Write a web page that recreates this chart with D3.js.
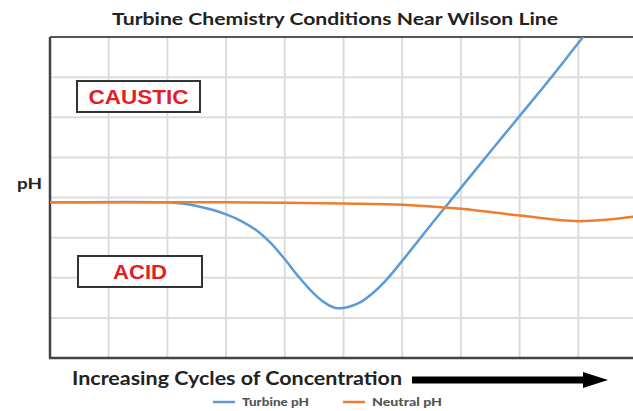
<!DOCTYPE html>
<html lang="en">
<head>
  <meta charset="utf-8">
  <title>Turbine Chemistry Conditions Near Wilson Line</title>
  <script src="https://d3js.org/d3.v7.min.js"></script>
  <style>
    body { margin: 0; background: #fff; }
    svg text { font-family: Lato, "Open Sans", sans-serif; font-weight: bold; }
  </style>
</head>
<body>
  <div id="chart"></div>
  <script>
    // data (x = cycles grid units, y = pH grid units)
    var turbineX  = [0, 2, 2.25, 2.5, 2.75, 3, 3.25, 3.5, 3.75, 4, 4.25, 4.5, 4.7, 4.9,
                     5.25, 5.5, 5.75, 6, 6.25, 6.5, 6.75, 7, 7.5, 8, 8.5, 9, 9.3];
    var turbinePH = [3.88, 3.88, 3.85, 3.79, 3.70, 3.58, 3.42, 3.20, 2.88, 2.46, 2.00, 1.60, 1.36, 1.24,
                     1.36, 1.62, 1.98, 2.42, 2.88, 3.34, 3.79, 4.24, 5.14, 6.03, 6.92, 7.85, 8.4];
    var neutralX  = [0, 1, 2, 3, 4, 5, 6, 7, 8, 9, 10];
    var neutralPH = [3.88, 3.88, 3.88, 3.88, 3.87, 3.85, 3.82, 3.72, 3.55, 3.41, 3.53];
    var seriesNames = ["Turbine pH", "Neutral pH"];
    var xTicks = d3.range(0, 11);
    var yTicks = d3.range(0, 9);

    function draw() {
      var W = 633, H = 411;
      var margin = {left: 50, right: 637, top: 37, bottom: 358};

      var svg = d3.select("#chart").append("svg")
          .attr("width", W).attr("height", H);

      var x = d3.scaleLinear().domain([0, 10]).range([margin.left, margin.right]);
      var y = d3.scaleLinear().domain([0, 8]).range([margin.bottom, margin.top]);

      // grade
      var grid = svg.append("g");
      grid.selectAll("line.v").data(xTicks.slice(1)).enter().append("line")
          .attr("x1", d => x(d)).attr("x2", d => x(d))
          .attr("y1", margin.top).attr("y2", margin.bottom)
          .attr("stroke", "#dcdcdc").attr("stroke-width", 2);
      grid.selectAll("line.h").data(yTicks.slice(1, -1)).enter().append("line")
          .attr("x1", margin.left).attr("x2", margin.right)
          .attr("y1", d => y(d)).attr("y2", d => y(d))
          .attr("stroke", "#dcdcdc").attr("stroke-width", 2);

      // borda do grafico
      svg.append("line").attr("x1", margin.left).attr("x2", W)
          .attr("y1", margin.top).attr("y2", margin.top)
          .attr("stroke", "#555").attr("stroke-width", 2);
      svg.append("line").attr("x1", margin.left).attr("x2", margin.left)
          .attr("y1", margin.top).attr("y2", margin.bottom)
          .attr("stroke", "#444").attr("stroke-width", 2.5);
      svg.append("line").attr("x1", margin.left - 1).attr("x2", W)
          .attr("y1", margin.bottom).attr("y2", margin.bottom)
          .attr("stroke", "#444").attr("stroke-width", 2.5);

      svg.append("clipPath").attr("id", "plot")
        .append("rect").attr("x", margin.left).attr("y", margin.top)
          .attr("width", margin.right - margin.left).attr("height", margin.bottom - margin.top);

      var line = d3.line().curve(d3.curveCatmullRom.alpha(0.5))
          .x(d => x(d[0])).y(d => y(d[1]));

      var lines = svg.append("g").attr("clip-path", "url(#plot)");
      lines.append("path")
          .attr("d", line(d3.zip(turbineX, turbinePH)))
          .attr("fill", "none").attr("stroke", "#5b9bd5").attr("stroke-width", 2.5);
      lines.append("path")
          .attr("d", line(d3.zip(neutralX, neutralPH)))
          .attr("fill", "none").attr("stroke", "#ed7d31").attr("stroke-width", 2.5);

      // caixas CAUSTIC / ACID
      function caixa(x0, y0, w, h, txt, tl) {
        svg.append("rect").attr("x", x0).attr("y", y0).attr("width", w).attr("height", h)
            .attr("fill", "#fff").attr("stroke", "#333").attr("stroke-width", 2);
        svg.append("text").attr("x", x0 + w / 2).attr("y", y0 + h / 2 + 7)
            .attr("text-anchor", "middle")
            .attr("textLength", tl).attr("lengthAdjust", "spacingAndGlyphs")
            .style("font-family", "'Liberation Sans', Arial, sans-serif")
            .style("font-size", "20px").attr("fill", "#e31e24").text(txt);
      }
      caixa(77, 81, 123, 31, "CAUSTIC", 100);
      caixa(78, 256, 124, 31, "ACID", 54);

      // textos
      svg.append("text").attr("x", 112).attr("y", 25)
          .attr("textLength", 446).attr("lengthAdjust", "spacingAndGlyphs")
          .style("font-size", "17px").attr("fill", "#222")
          .text("Turbine Chemistry Conditions Near Wilson Line");

      svg.append("text").attr("x", 17).attr("y", 189)
          .attr("textLength", 25).attr("lengthAdjust", "spacingAndGlyphs")
          .style("font-size", "16px").attr("fill", "#222").text("pH");

      svg.append("text").attr("x", 72).attr("y", 385)
          .attr("textLength", 330).attr("lengthAdjust", "spacingAndGlyphs")
          .style("font-size", "18px").attr("fill", "#222")
          .text("Increasing Cycles of Concentration");

      // seta
      svg.append("line").attr("x1", 412).attr("x2", 588).attr("y1", 380).attr("y2", 380)
          .attr("stroke", "#000").attr("stroke-width", 7);
      svg.append("path").attr("d", "M583,372 L608,380 L583,388 Z").attr("fill", "#000");

      // legenda
      var cores = ["#5b9bd5", "#ed7d31"];
      var legX = [213, 343];
      var leg = svg.selectAll("g.leg").data(seriesNames).enter().append("g")
          .attr("transform", (d, i) => "translate(" + legX[i] + ",402)");
      leg.append("line").attr("x1", 0).attr("x2", 22).attr("y1", 0).attr("y2", 0)
          .attr("stroke", (d, i) => cores[i]).attr("stroke-width", 2.5);
      leg.append("text").attr("x", 29).attr("y", 4)
          .attr("textLength", (d, i) => i === 0 ? 67 : 70)
          .attr("lengthAdjust", "spacingAndGlyphs")
          .style("font-size", "11px").style("font-weight", 900)
          .attr("fill", "#555").text(d => d);
    }

    draw();
  </script>
</body>
</html>
